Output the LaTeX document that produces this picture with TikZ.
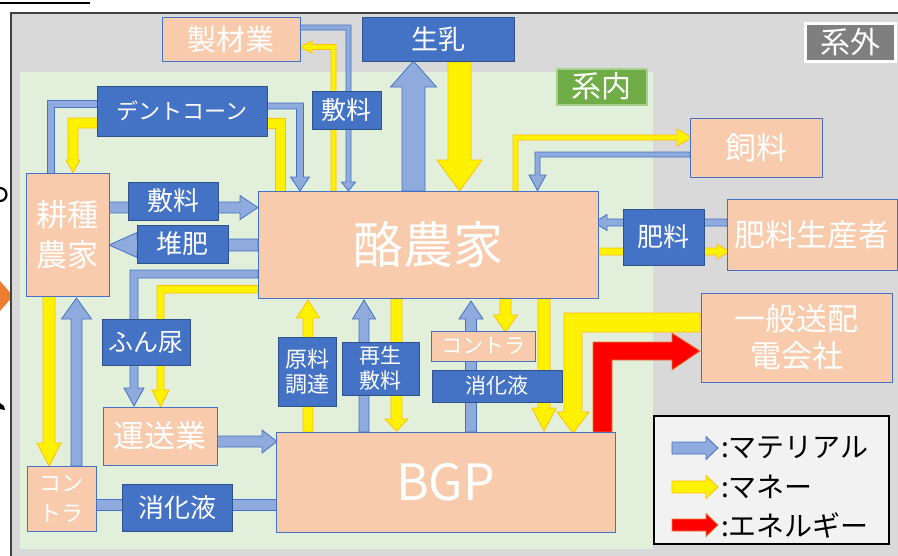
\documentclass[tikz,border=0pt]{standalone}
\usepackage{fontspec}
\newfontfamily\jp{Noto Sans CJK JP}
\definecolor{peachc}{HTML}{F8CBAD}
\definecolor{bordc}{HTML}{4472C4}
\definecolor{lblc}{HTML}{4472C4}
\definecolor{lbldark}{HTML}{2F528F}
\definecolor{matfill}{HTML}{8FAADC}
\definecolor{matline}{HTML}{4472C4}
\definecolor{moneyline}{HTML}{FFC000}
\definecolor{energyline}{HTML}{ED7D31}
\definecolor{outerbg}{HTML}{D9D9D9}
\definecolor{innerbg}{HTML}{E2EFDA}
\definecolor{framec}{HTML}{404040}
\definecolor{gaibox}{HTML}{7F7F7F}
\definecolor{naibox}{HTML}{70AD47}
\definecolor{naiedge}{HTML}{A9D18E}
\definecolor{legbg}{HTML}{F2F2F2}
\definecolor{orangec}{HTML}{ED7D31}
\tikzset{
  fs/.style n args={2}{font=\jp\fontsize{#1}{#2}\selectfont},
  peach/.style={fill=peachc, draw=bordc, line width=0.9pt, text=white, inner sep=0pt, align=center},
  lbl/.style={fill=lblc, draw=lbldark, line width=0.9pt, text=white, inner sep=0pt, align=center},
  mat/.style={fill=matfill, draw=matline, line width=0.8pt, line join=miter},
  money/.style={fill=yellow, draw=moneyline, line width=0.8pt, line join=miter},
  energy/.style={fill=red, draw=energyline, line width=0.8pt, line join=miter},
}
% vertical block arrow: x, y tail, y tip, half shaft, half head, head length, style
\newcommand\blockV[7]{%
  \pgfmathsetmacro\bkb{(#3>#2) ? (#3-#6) : (#3+#6)}%
  \path[#7] (#1-#4,#2) -- (#1-#4,\bkb) -- (#1-#5,\bkb) -- (#1,#3) -- (#1+#5,\bkb) -- (#1+#4,\bkb) -- (#1+#4,#2) -- cycle;}
% horizontal block arrow: y, x tail, x tip, half shaft, half head, head length, style
\newcommand\blockH[7]{%
  \pgfmathsetmacro\bkb{(#3>#2) ? (#3-#6) : (#3+#6)}%
  \path[#7] (#2,#1-#4) -- (\bkb,#1-#4) -- (\bkb,#1-#5) -- (#3,#1) -- (\bkb,#1+#5) -- (\bkb,#1+#4) -- (#2,#1+#4) -- cycle;}
\begin{document}
\begin{tikzpicture}[x=1pt,y=-1pt]
\useasboundingbox (0,0) rectangle (898,555);
\clip (0,0) rectangle (898,555);
\fill[white] (0,0) rectangle (898,555);
% stray fragments at the left edge and top
\draw[black, line width=2pt] (0,2.5) -- (90,2.5);
\fill[orangec] (0,281) -- (13,296) -- (0,311) -- cycle;
\draw[black, line width=2.2pt] (0,201) arc[start angle=90, end angle=-90, radius=6.5];
\fill[black] (0,403) -- (4,406) -- (5,410) -- (0,409) -- cycle;
% frames
\fill[outerbg] (11,13) rectangle (905,562);
\draw[framec, line width=1.6pt] (11,562) -- (11,13) -- (905,13);
\fill[innerbg] (20,72) rectangle (653,549);
\node[fill=gaibox, draw=white, line width=2.5pt, text=white, inner sep=0pt, fs={30}{34}, minimum width=90pt, minimum height=38pt] (gai) at (850.5,42.5) {系外};
\node[fill=naibox, draw=naiedge, line width=2pt, text=white, inner sep=0pt, fs={30}{34}, minimum width=90pt, minimum height=36pt] (nai) at (601.5,86.5) {系内};

% ---- arrows ----
\blockV{413.5}{191}{61}{11.5}{23}{26}{mat}
\blockV{459.5}{62}{191}{11.5}{22.5}{31}{money}
\path[money] (331,191) -- (331,49.5) -- (312,49.5) -- (312,53) -- (300,47) -- (312,41) -- (312,44.5) -- (336,44.5) -- (336,191) -- cycle;
\path[mat] (300,25) -- (351,25) -- (351,182) -- (355.5,182) -- (348.5,191) -- (341.5,182) -- (346,182) -- (346,30) -- (300,30) -- cycle;
\path[mat] (47,173) -- (47,100) -- (97,100) -- (97,107) -- (54,107) -- (54,173) -- cycle;
\path[mat] (267,103) -- (303.5,103) -- (303.5,177) -- (309.5,177) -- (300,191) -- (290.5,177) -- (296.5,177) -- (296.5,109) -- (267,109) -- cycle;
\path[money] (267,118) -- (285.5,118) -- (285.5,191) -- (275,191) -- (275,128) -- (267,128) -- cycle;
\path[money] (97,118) -- (68,118) -- (68,160) -- (66,160) -- (73,172.5) -- (80,160) -- (78,160) -- (78,128) -- (97,128) -- cycle;
\blockH{207.5}{109}{258}{5.5}{12}{18}{mat}
\blockH{245}{258}{109}{6}{12.5}{28}{mat}
\path[mat] (258,270) -- (130,270) -- (130,388) -- (124,388) -- (134,406) -- (144,388) -- (138,388) -- (138,278) -- (258,278) -- cycle;
\path[money] (258,285.5) -- (157,285.5) -- (157,390) -- (152,390) -- (160.5,407) -- (169,390) -- (164,390) -- (164,293) -- (258,293) -- cycle;
\blockV{49}{296}{466}{6}{12}{23}{money}
\blockV{76.5}{466}{298}{5.5}{15}{21}{mat}
\path[mat] (96,499) rectangle (276,510);
\blockH{441.5}{217}{277}{5.5}{11.5}{15}{mat}
\blockV{308}{432}{300}{5}{11.5}{18}{money}
\blockV{364}{432}{300}{5}{11.5}{19}{mat}
\blockV{396.5}{299}{431}{5.5}{11.5}{12}{money}
\blockV{471}{432}{301}{5.5}{12}{18}{mat}
\blockV{505.5}{299}{332}{5.5}{12}{17}{money}
\blockV{544}{299}{431}{6}{12}{23}{money}
\path[money] (700,313) -- (564,313) -- (564,412) -- (557,412) -- (573,433) -- (589,412) -- (582,412) -- (582,332) -- (700,332) -- cycle;
\path[energy] (593,432) -- (593,342) -- (672,342) -- (672,333) -- (700,351) -- (672,370) -- (672,360) -- (612,360) -- (612,432) -- cycle;
\path[money] (513,191) -- (513,135) -- (677,135) -- (677,129) -- (692,137.5) -- (677,146) -- (677,140) -- (518,140) -- (518,191) -- cycle;
\path[mat] (690,152) -- (535,152) -- (535,175) -- (529,175) -- (537.5,190.5) -- (546,175) -- (540,175) -- (540,157) -- (690,157) -- cycle;
\blockH{222.5}{727}{594}{3.5}{8}{13}{mat}
\blockH{251.5}{598}{729}{3.5}{7.5}{12}{money}

% ---- peach nodes ----
\node[peach, fs={29}{34}, minimum width=138pt, minimum height=44pt] (seizai) at (231,39) {製材業};
\node[peach, fs={50}{56}, minimum width=340pt, minimum height=107pt] (rakuno) at (428,244.5) {酪農家};
\node[peach, fs={31}{40}, minimum width=83pt, minimum height=123pt] (koshu) at (67.5,234.5) {耕種\\農家};
\node[peach, fs={31}{36}, minimum width=132pt, minimum height=59pt] (shiryo) at (756,147.5) {飼料};
\node[peach, fs={31}{36}, minimum width=170pt, minimum height=71pt] (hiryosei) at (812,234.5) {肥料生産者};
\node[peach, fs={31}{37}, minimum width=191pt, minimum height=89pt] (denryoku) at (796.5,337.5) {一般送配\\電会社};
\node[peach, fs={21}{25}, minimum width=104pt, minimum height=30pt] (contraM) at (483,346) {コントラ};
\node[peach, fs={31}{36}, minimum width=114pt, minimum height=58pt] (unso) at (160,436) {運送業};
\node[peach, fs={22}{30}, minimum width=69pt, minimum height=65pt] (contraL) at (61.5,498.5) {コン\\トラ};
\node[peach, fs={50}{56}, minimum width=339pt, minimum height=100pt] (bgp) at (445.5,482) {BGP};

% ---- blue labels ----
\node[lbl, fs={27}{32}, minimum width=152pt, minimum height=44pt] (nyu) at (438,39) {生乳};
\node[lbl, fs={22}{26}, minimum width=170pt, minimum height=50pt] (dent) at (182,111) {デントコーン};
\node[lbl, fs={25}{30}, minimum width=69pt, minimum height=38pt] (shikiT) at (346.5,110) {敷料};
\node[lbl, fs={26}{30}, minimum width=90pt, minimum height=38pt] (shikiL) at (173,201) {敷料};
\node[lbl, fs={26}{30}, minimum width=91pt, minimum height=38pt] (taihi) at (182.5,244) {堆肥};
\node[lbl, fs={25}{30}, minimum width=88pt, minimum height=46pt] (funnyo) at (146,342) {ふん尿};
\node[lbl, fs={26}{30}, minimum width=81pt, minimum height=56pt] (hiryo) at (663.5,237) {肥料};
\node[lbl, fs={22}{25}, minimum width=58pt, minimum height=69pt] (genryo) at (307,371.5) {原料\\調達};
\node[lbl, fs={21}{25}, minimum width=77pt, minimum height=53pt] (saisei) at (380.5,368.5) {再生\\敷料};
\node[lbl, fs={21}{25}, minimum width=130pt, minimum height=32pt] (shokaM) at (497,386) {消化液};
\node[lbl, fs={26}{30}, minimum width=110pt, minimum height=47pt] (shokaB) at (177,507.5) {消化液};

% ---- legend ----
\node[fill=legbg, draw=black, line width=1.2pt, minimum width=235pt, minimum height=128pt, inner sep=0pt] (legend) at (771.5,480) {};
\blockH{448}{672}{718}{6}{11.5}{12}{mat}
\blockH{487}{672}{718}{6}{11.5}{12}{money}
\blockH{525}{672}{718}{6}{11.5}{12}{energy}
\node[anchor=west, inner sep=0pt, fs={28}{32}] (legM) at (721,448) {:マテリアル};
\node[anchor=west, inner sep=0pt, fs={28}{32}] (legY) at (721,487) {:マネー};
\node[anchor=west, inner sep=0pt, fs={28}{32}] (legE) at (721,525) {:エネルギー};
\end{tikzpicture}
\end{document}
